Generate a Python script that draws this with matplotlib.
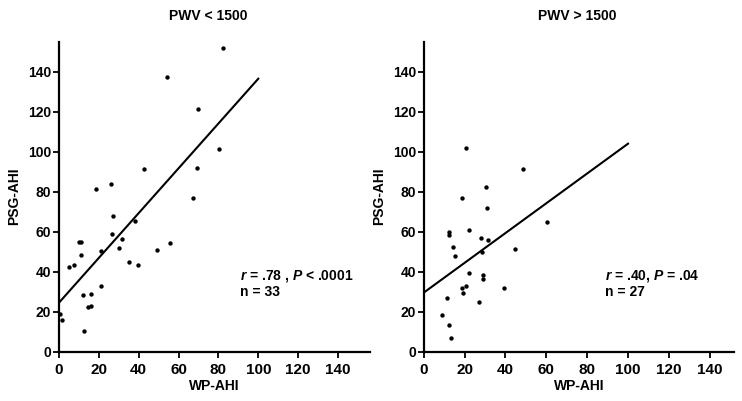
import matplotlib
matplotlib.use("Agg")
import matplotlib.pyplot as plt
import numpy as np

plt.rcParams['font.family'] = ['Liberation Sans', 'DejaVu Sans']
plt.rcParams['font.weight'] = 'bold'
plt.rcParams['mathtext.fontset'] = 'custom'
plt.rcParams['mathtext.it'] = 'Liberation Sans:bold:italic'
plt.rcParams['mathtext.rm'] = 'Liberation Sans:bold'

# Panel 1: PWV < 1500
low_x = [82.4, 54.1, 70.0, 80.2, 42.9, 69.5, 18.4, 25.9, 67.2,
         26.9, 37.9, 26.4, 31.4, 29.9, 21.2, 10.0, 11.0, 11.0, 5.0, 7.5,
         35.1, 39.4, 49.4, 55.5, 21.0, 12.0, 15.9, 14.4, 15.9, 12.4, 0.7, 1.3]
low_y = [151.9, 137.4, 121.5, 101.2, 91.5, 92.0, 81.3, 84.0, 76.7,
         67.9, 65.4, 58.6, 56.1, 51.6, 50.1, 55.0, 55.0, 48.4, 42.1, 43.1,
         44.6, 43.2, 50.8, 54.1, 32.7, 28.4, 29.0, 22.5, 22.7, 10.5, 18.7, 15.7]
low_fit = [24.5, 1.12]   # intercept, slope
low_text = r'$r$ = .78 , $P$ < .0001' + '\nn = 33'

# Panel 2: PWV > 1500
high_x = [20.7, 48.7, 30.7, 18.6, 31.2, 60.3, 12.3, 12.5, 22.4, 28.1, 31.5,
          14.4, 15.2, 28.4, 44.6, 22.2, 28.8, 28.8, 18.6, 20.7, 19.4, 39.2,
          11.6, 27.1, 9.0, 12.3, 13.2]
high_y = [102.0, 91.2, 82.2, 76.6, 72.0, 64.8, 59.7, 58.2, 60.7, 56.7, 55.8,
          52.5, 47.7, 50.0, 51.3, 39.2, 38.3, 36.3, 31.7, 32.8, 29.5, 31.8,
          26.8, 24.7, 18.3, 13.5, 6.7]
high_fit = [29.5, 0.745]
high_text = r'$r$ = .40, $P$ = .04' + '\nn = 27'

titles = ['PWV < 1500', 'PWV > 1500']
ticks = [0, 20, 40, 60, 80, 100, 120, 140]

fig = plt.figure(figsize=(7.42, 4.01), dpi=100)
ax1 = fig.add_axes([0.0795, 0.123, 0.419, 0.773])
ax2 = fig.add_axes([0.571, 0.123, 0.4186, 0.773])

panels = [(ax1, low_x, low_y, low_fit, low_text, titles[0], 156, 90.8),
          (ax2, high_x, high_y, high_fit, high_text, titles[1], 152, 88.5)]

for ax, xs, ys, fit, txt, title, xmax, tx in panels:
    ax.scatter(xs, ys, s=10, color='black', zorder=3, linewidths=0)
    fx = np.array([0, 100])
    ax.plot(fx, fit[0] + fit[1] * fx, color='black', lw=1.5)
    ax.set_xlim(0, xmax)
    ax.set_ylim(0, 155)
    ax.set_xticks(ticks)
    ax.set_yticks(ticks)
    for s in ['top', 'right']:
        ax.spines[s].set_visible(False)
    for s in ['left', 'bottom']:
        ax.spines[s].set_linewidth(1.6)
    ax.tick_params(axis='x', direction='out', length=4, width=1.3,
                   labelsize=11, pad=4.5)
    ax.tick_params(axis='y', direction='out', length=4, width=1.3,
                   labelsize=10, pad=1.5)
    for lab in ax.get_xticklabels() + ax.get_yticklabels():
        lab.set_fontweight('bold')
    ax.set_xlabel('WP-AHI', fontsize=10, fontweight='bold', labelpad=1)
    ax.set_ylabel('PSG-AHI', fontsize=10, fontweight='bold', labelpad=5)
    ax.text(75, 168, title, ha='center', va='center', fontsize=10,
            fontweight='bold', clip_on=False)
    ax.text(tx, 42, txt, ha='left', va='top', fontsize=10, fontweight='bold',
            linespacing=1.15)
    ax.set_facecolor('white')

fig.savefig('out.png', dpi=100, facecolor='white')
